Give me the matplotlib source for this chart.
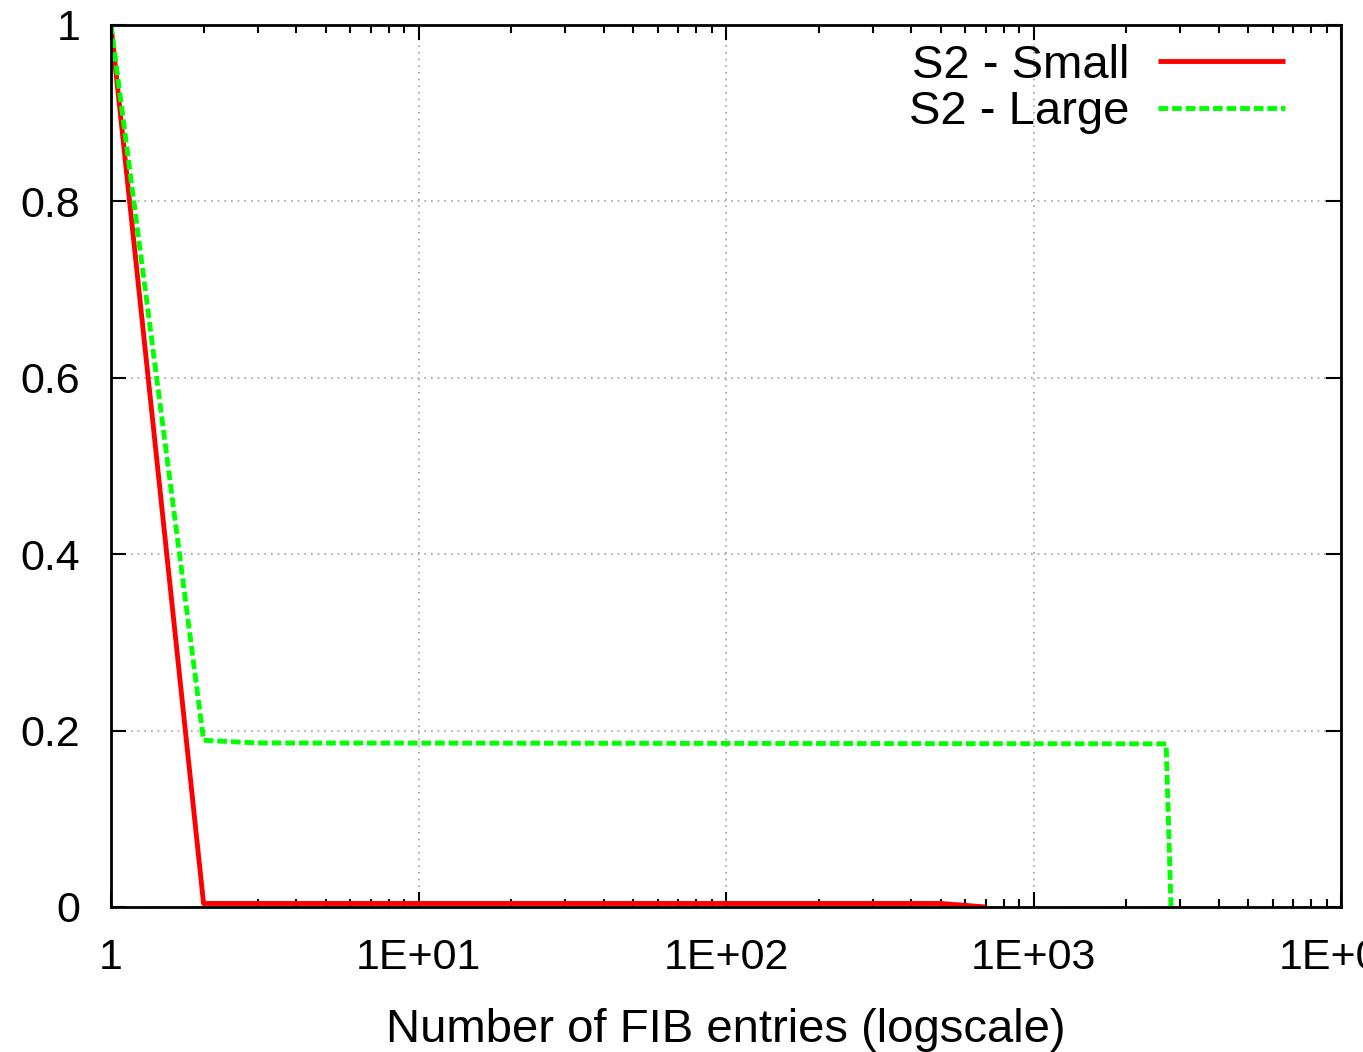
import matplotlib
matplotlib.use("Agg")
import matplotlib.pyplot as plt
from matplotlib.ticker import FixedLocator, LogLocator, NullFormatter, FixedFormatter

plt.rcParams['font.family'] = ['Liberation Sans', 'DejaVu Sans']

# Data
small_x = [1, 2, 500, 700]
small_y = [1.0, 0.004, 0.004, 0.0]
large_x = [1, 2, 3, 2700, 2800]
large_y = [1.0, 0.189, 0.186, 0.185, 0.0]
xticks = [1, 10, 100, 1000, 10000]
xtick_labels = ["1", "1E+01", "1E+02", "1E+03", "1E+04"]
yticks = [0, 0.2, 0.4, 0.6, 0.8, 1.0]
ytick_labels = ["0", "0.2", "0.4", "0.6", "0.8", "1"]
labels = ["S2 - Small", "S2 - Large"]

fig = plt.figure(figsize=(13.63, 10.52), dpi=100)
ax = fig.add_axes([111/1363, 1-907/1052, (1341-111)/1363, (907-25)/1052])

ax.plot(small_x, small_y, color='#ff0000', lw=3.5, label=labels[0], solid_capstyle='butt')
ax.plot(large_x, large_y, color='#00ff00', lw=3.5, label=labels[1], dashes=(2.0, 0.8))

ax.set_xscale('log')
ax.set_xlim(1, 10000)
ax.set_ylim(0, 1)
ax.xaxis.set_major_locator(FixedLocator(xticks))
ax.xaxis.set_major_formatter(FixedFormatter(xtick_labels))
ax.xaxis.set_minor_locator(LogLocator(base=10, subs=range(2, 10)))
ax.xaxis.set_minor_formatter(NullFormatter())
ax.yaxis.set_major_locator(FixedLocator(yticks))
ax.yaxis.set_major_formatter(FixedFormatter(ytick_labels))

ax.grid(True, which='major', color='#a0a0a0', linestyle=(0, (1, 3)), linewidth=1.2)
ax.set_axisbelow(True)

ax.tick_params(which='both', direction='in', top=True, right=True, labelsize=31, width=1.5, color='black')
ax.tick_params(which='major', length=11)
ax.tick_params(which='minor', length=6)
ax.tick_params(axis='y', pad=22)
ax.tick_params(axis='x', pad=22)
for s in ax.spines.values():
    s.set_linewidth(2.0)

ax.set_xlabel("Number of FIB entries (logscale)", fontsize=34, labelpad=22)

leg = ax.legend(loc='upper right', bbox_to_anchor=(1285/1363, 1-44/1052), bbox_transform=fig.transFigure,
                frameon=False, markerfirst=False, fontsize=34, handlelength=2.7, handletextpad=0.6,
                labelspacing=0.05, borderaxespad=0, borderpad=0)
for t in leg.get_texts():
    t.set_ha('right')

fig.savefig("out.png", dpi=100)
